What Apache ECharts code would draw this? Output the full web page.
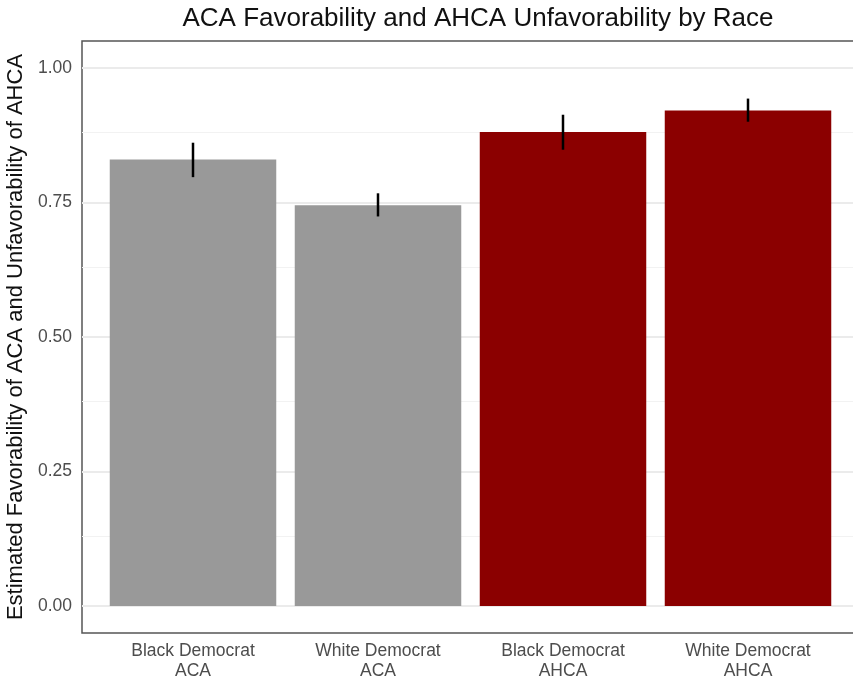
<!DOCTYPE html>
<html>
<head>
<meta charset="utf-8">
<script src="https://cdn.jsdelivr.net/npm/echarts@6/dist/echarts.min.js"></script>
<style>
  html, body { margin: 0; padding: 0; background: #fff; }
  #chart { width: 853px; height: 682px; }
</style>
</head>
<body>
<div id="chart"></div>
<script>
// Survey estimates by group and policy
const groups = ['Black Democrat', 'White Democrat', 'Black Democrat', 'White Democrat'];
const policies = ['ACA', 'ACA', 'AHCA', 'AHCA'];
const estimates = [0.830, 0.745, 0.881, 0.921];
const lower = [0.797, 0.724, 0.848, 0.900];
const upper = [0.861, 0.767, 0.913, 0.943];

// Axis ticks
const yMajorTicks = [0, 0.25, 0.5, 0.75, 1];
const yMinorTicks = [0.125, 0.375, 0.625, 0.875];
const xPositions = [1, 2, 3, 4];

const policyColor = { ACA: '#999999', AHCA: '#8b0000' };
const FONT = '"Liberation Sans", Arial, Helvetica, sans-serif';

const barData = xPositions.map((x, i) => [x, estimates[i]]);
const errData = xPositions.map((x, i) => [x, lower[i], upper[i]]);

const chart = echarts.init(document.getElementById('chart'), null, { renderer: 'canvas' });

chart.setOption({
  animation: false,
  backgroundColor: '#ffffff',
  textStyle: { fontFamily: FONT },
  title: {
    text: 'ACA Favorability and AHCA Unfavorability by Race',
    left: 473,
    textAlign: 'center',
    top: 1,
    textStyle: { fontFamily: FONT, fontSize: 26, fontWeight: 'normal', color: '#111' }
  },
  grid: {
    left: 82,
    right: -6,
    top: 41,
    bottom: 49,
    outerBoundsMode: 'none',
    containLabel: false,
    show: true,
    borderColor: '#555',
    borderWidth: 1.5,
    backgroundColor: 'transparent'
  },
  xAxis: {
    type: 'value',
    min: 0.4,
    max: 4.6,
    axisLine: { show: false },
    axisTick: { show: false },
    splitLine: { show: false },
    axisLabel: {
      customValues: xPositions,
      margin: 8,
      fontFamily: FONT,
      fontSize: 17.5,
      lineHeight: 20,
      color: '#4d4d4d',
      formatter: function (v) {
        const i = xPositions.indexOf(Math.round(v));
        return i < 0 ? '' : groups[i] + '\n' + policies[i];
      }
    }
  },
  yAxis: {
    type: 'value',
    min: -0.05,
    max: 1.05,
    name: 'Estimated Favorability of ACA and Unfavorability of AHCA',
    nameLocation: 'middle',
    nameGap: 49,
    nameTextStyle: { fontFamily: FONT, fontSize: 22, color: '#111' },
    axisLine: { show: false },
    axisTick: { show: false },
    splitLine: { show: false },
    axisLabel: {
      customValues: yMajorTicks,
      margin: 10,
      fontFamily: FONT,
      fontSize: 17.5,
      color: '#4d4d4d',
      formatter: function (v) { return v.toFixed(2); }
    }
  },
  series: [
    {
      // panel grid lines, kept beneath the bars
      type: 'line',
      data: [],
      silent: true,
      z: 0,
      markLine: {
        silent: true,
        z: 0,
        symbol: 'none',
        label: { show: false },
        animation: false,
        data: yMinorTicks.map(v => ({ yAxis: v, lineStyle: { color: '#f2f2f2', width: 1, type: 'solid' } }))
          .concat(yMajorTicks.map(v => ({ yAxis: v, lineStyle: { color: '#ebebeb', width: 2, type: 'solid' } })))
      }
    },
    {
      type: 'custom',
      z: 10,
      data: barData,
      renderItem: function (params, api) {
        const x = api.value(0);
        const y = api.value(1);
        const p0 = api.coord([x - 0.45, y]);
        const p1 = api.coord([x + 0.45, 0]);
        return {
          type: 'rect',
          shape: { x: p0[0], y: p0[1], width: p1[0] - p0[0], height: p1[1] - p0[1] },
          style: { fill: policyColor[policies[params.dataIndex]] }
        };
      }
    },
    {
      type: 'custom',
      z: 11,
      data: errData,
      renderItem: function (params, api) {
        const x = api.value(0);
        const a = api.coord([x, api.value(1)]);
        const b = api.coord([x, api.value(2)]);
        return {
          type: 'line',
          shape: { x1: a[0], y1: a[1], x2: b[0], y2: b[1] },
          style: { stroke: '#000', lineWidth: 2.5 }
        };
      }
    }
  ]
});
</script>
</body>
</html>
